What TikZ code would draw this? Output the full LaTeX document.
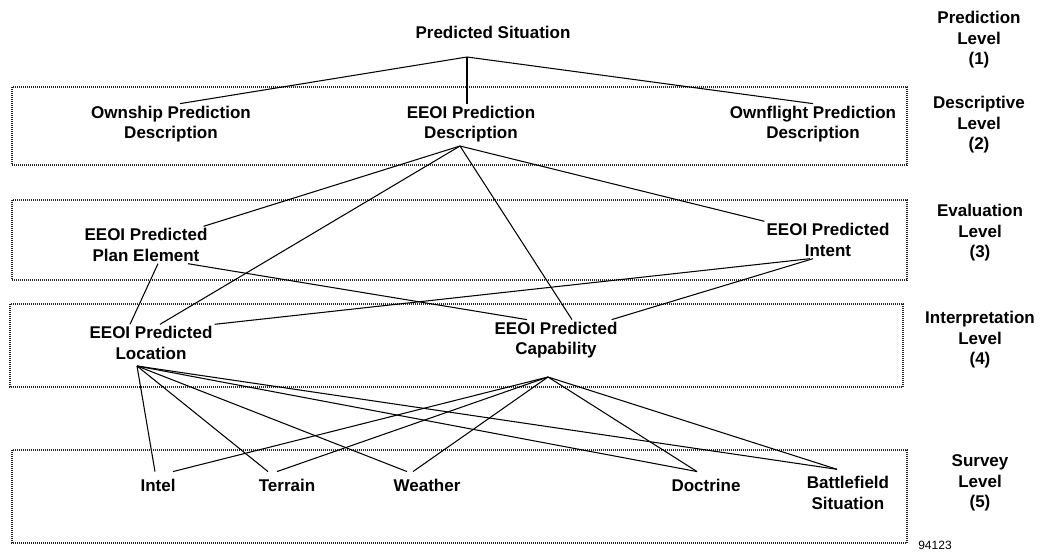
\documentclass[tikz,border=0pt]{standalone}
\usepackage{fontspec}
\setsansfont{Liberation Sans}

\tikzset{
  lvl/.style={font=\sffamily\bfseries\fontsize{17}{20.5}\selectfont, align=center, inner sep=2pt},
  survey/.style={lvl, inner xsep=2pt, inner ysep=7pt},
  levelbox/.style={draw=black!85, dash pattern=on 1pt off 1pt, line width=1.5pt},
  link/.style={line width=1.05pt},
}

\begin{document}
\begin{tikzpicture}[x=1pt,y=-1pt]
  \useasboundingbox (0,0) rectangle (1052,554);

  % Level boxes
  \draw[levelbox] (12,87) rectangle (907,165);
  \draw[levelbox] (12,200) rectangle (907,280);
  \draw[levelbox] (10,304) rectangle (903,387);
  \draw[levelbox] (12,450) rectangle (907,543);

  % Level names
  \node[lvl] (lvlpred) at (979,40) {Prediction\\Level\\(1)};
  \node[lvl] (lvldesc) at (979,125) {Descriptive\\Level\\(2)};
  \node[lvl] (lvleval) at (980,233) {Evaluation\\Level\\(3)};
  \node[lvl] (lvlinterp) at (980,340) {Interpretation\\Level\\(4)};
  \node[lvl] (lvlsurv) at (980,483) {Survey\\Level\\(5)};

  % Situation and descriptions
  \node[lvl] (sit) at (493,32) {Predicted Situation};
  \node[lvl] (own) at (171,124) {Ownship Prediction\\Description};
  \node[lvl] (desc) at (471,124) {EEOI Prediction\\Description};
  \node[lvl] (ownfl) at (813,124) {Ownflight Prediction\\Description};

  % Evaluation and interpretation
  \node[lvl] (plan) at (146,245) {EEOI Predicted\\Plan Element};
  \node[lvl] (intent) at (828,240) {EEOI Predicted\\Intent};
  \node[lvl] (loc) at (151,343) {EEOI Predicted\\Location};
  \node[lvl] (cap) at (556,340) {EEOI Predicted\\Capability};

  % Survey items
  \node[survey] (intel) at (158,485) {Intel};
  \node[survey] (terrain) at (287,485) {Terrain};
  \node[survey] (weather) at (427,485) {Weather};
  \node[survey] (doctrine) at (706,485) {Doctrine};
  \node[survey] (battle) at (848,493) {Battlefield\\Situation};

  \node[font=\sffamily\fontsize{12}{12}\selectfont, inner sep=0pt] (fignum) at (935,545) {94123};

  % Junctions
  \coordinate (sitjoin) at (467,57);
  \coordinate (descjoin) at (460,146);
  \coordinate (locjoin) at (137,366);
  \coordinate (capjoin) at (548,377);

  \draw[link] (sitjoin) -- ([xshift=9pt]own.north);
  \draw[link] (sitjoin) -- ([xshift=-4pt]desc.north);
  \draw[link] (sitjoin) -- (ownfl.north);

  \draw[link] (descjoin) -- ([xshift=-6pt]plan.north east);
  \draw[link] (descjoin) -- ([xshift=9pt]loc.north);
  \draw[link] (descjoin) -- ([xshift=16pt]cap.north);
  \draw[link] (descjoin) -- (intent.north west);

  \draw[link] ([xshift=12pt]plan.south) -- ([xshift=-21pt]loc.north);
  \draw[link] ([xshift=42pt]plan.south) -- ([xshift=-29pt]cap.north);
  \draw[link] (loc.north east) -- ([xshift=-18pt]intent.south);
  \draw[link] ([xshift=-8pt]cap.north east) -- ([xshift=-15pt]intent.south);

  \draw[link] (locjoin) -- ([xshift=-3pt]intel.north);
  \draw[link] (locjoin) -- ([xshift=-19pt]terrain.north);
  \draw[link] (locjoin) -- ([xshift=-20pt]weather.north);
  \draw[link] (locjoin) -- ([xshift=-9pt]doctrine.north);
  \draw[link] (locjoin) -- ([xshift=-11pt]battle.north);

  \draw[link] (capjoin) -- ([xshift=15pt]intel.north);
  \draw[link] (capjoin) -- ([xshift=-10pt]terrain.north);
  \draw[link] (capjoin) -- ([xshift=-14pt]weather.north);
  \draw[link] (capjoin) -- ([xshift=-9pt]doctrine.north);
  \draw[link] (capjoin) -- ([xshift=-11pt]battle.north);
\end{tikzpicture}
\end{document}
